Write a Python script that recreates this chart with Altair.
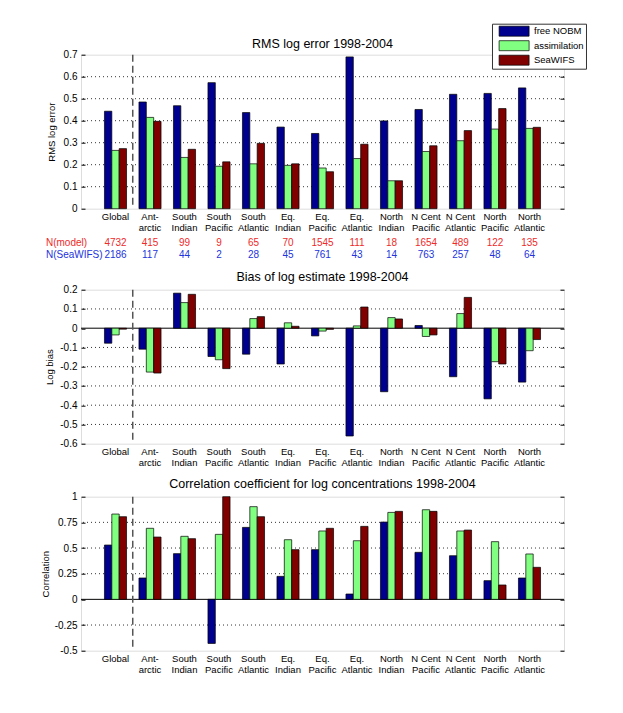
import altair as alt
import pandas as pd

FONT = "Liberation Sans"

regions = ["Global", "Ant-|arctic", "South|Indian", "South|Pacific", "South|Atlantic",
           "Eq.|Indian", "Eq.|Pacific", "Eq.|Atlantic", "North|Indian", "N Cent|Pacific",
           "N Cent|Atlantic", "North|Pacific", "North|Atlantic"]
series = ["free NOBM", "assimilation", "SeaWIFS"]
colors = ["#00008F", "#80FF80", "#800000"]

rms_free = [0.443, 0.485, 0.468, 0.573, 0.437, 0.371, 0.342, 0.690, 0.399, 0.451, 0.520, 0.524, 0.549]
rms_assim = [0.265, 0.415, 0.233, 0.193, 0.204, 0.197, 0.185, 0.228, 0.127, 0.260, 0.309, 0.362, 0.365]
rms_sea = [0.273, 0.397, 0.270, 0.213, 0.297, 0.204, 0.168, 0.293, 0.127, 0.286, 0.355, 0.455, 0.370]

bias_free = [-0.078, -0.109, 0.182, -0.147, -0.135, -0.186, -0.040, -0.560, -0.330, 0.014, -0.252, -0.367, -0.280]
bias_assim = [-0.035, -0.228, 0.133, -0.164, 0.050, 0.028, -0.015, 0.012, 0.055, -0.043, 0.076, -0.174, -0.117]
bias_sea = [-0.005, -0.233, 0.176, -0.210, 0.060, 0.010, -0.006, 0.110, 0.048, -0.035, 0.160, -0.186, -0.059]

corr_free = [0.529, 0.208, 0.445, -0.429, 0.701, 0.224, 0.484, 0.052, 0.753, 0.458, 0.425, 0.182, 0.208]
corr_assim = [0.831, 0.692, 0.614, 0.633, 0.903, 0.581, 0.666, 0.571, 0.847, 0.873, 0.666, 0.562, 0.442]
corr_sea = [0.805, 0.607, 0.591, 1.000, 0.805, 0.484, 0.692, 0.711, 0.857, 0.857, 0.675, 0.140, 0.312]

n_model = [4732, 415, 99, 9, 65, 70, 1545, 111, 18, 1654, 489, 122, 135]
n_seawifs = [2186, 117, 44, 2, 28, 45, 761, 43, 14, 763, 257, 48, 64]

rms_ticks = [0, 0.1, 0.2, 0.3, 0.4, 0.5, 0.6, 0.7]
rms_grid = [0.1, 0.2, 0.3, 0.4, 0.5, 0.6]
bias_ticks = [-0.6, -0.5, -0.4, -0.3, -0.2, -0.1, 0, 0.1, 0.2]
bias_grid = [-0.5, -0.4, -0.3, -0.2, -0.1, 0.1]
corr_ticks = [-0.5, -0.25, 0, 0.25, 0.5, 0.75, 1]
corr_grid = [-0.25, 0.25, 0.5, 0.75]

W, H = 483, 154
RED_TXT = "#EE2A2A"
BLUE_TXT = "#2233DD"


def long_df(a, b, c):
    rows = []
    for i, r in enumerate(regions):
        for s, v in zip(series, (a[i], b[i], c[i])):
            rows.append({"region": r, "series": s, "value": v})
    return pd.DataFrame(rows)


xscale = alt.Scale(domain=regions, paddingInner=0.36, paddingOuter=0.68)
xaxis = alt.Axis(title=None, labelExpr="split(datum.label, '|')", labelAngle=0,
                 domain=False, ticks=False, labelPadding=2.5, labelFontSize=9.5,
                 labelLineHeight=11.5, labelColor="black", labelFont=FONT)

legend = alt.Legend(title=None, orient="none", legendX=411, legendY=-31,
                    symbolType="M-1,-1H5V1H-1Z", symbolSize=100,
                    symbolStrokeColor="black", symbolStrokeWidth=0.7,
                    symbolOffset=4.6, labelOffset=24.4, labelFontSize=9.5,
                    labelFont=FONT, labelColor="black", rowPadding=1.5,
                    padding=2, strokeColor="#333333", fillColor="white")


def X(field="region:N", **kw):
    return alt.X(field, scale=xscale, axis=xaxis, **kw)


def panel(a, b, c, title, ytitle, tpad, toff, domain, ticks, gridvals, zero_line, extra=None):
    yscale = alt.Scale(domain=domain, nice=False, zero=False)
    left_axis = alt.Axis(values=ticks, labelExpr="toString(datum.value)", grid=False,
                         domain=False, tickSize=4, offset=-4, tickColor="black",
                         labelPadding=4, labelFontSize=10, labelFont=FONT, labelColor="black",
                         title=ytitle, titleFontSize=9.5, titleFont=FONT,
                         titleFontWeight="normal", titleColor="black", titlePadding=tpad)
    right_axis = alt.Axis(orient="right", values=ticks, labels=False, grid=False,
                          domain=False, tickSize=4, offset=-4, tickColor="black", title=None)
    bars = alt.Chart(long_df(a, b, c)).mark_bar(stroke="black", strokeWidth=0.7).encode(
        x=X(),
        xOffset=alt.XOffset("series:N", sort=series,
                            scale=alt.Scale(domain=series, paddingInner=0, paddingOuter=0)),
        y=alt.Y("value:Q", scale=yscale, axis=left_axis),
        color=alt.Color("series:N", scale=alt.Scale(domain=series, range=colors), legend=legend),
    )
    grid = alt.Chart(pd.DataFrame({"g": gridvals})).mark_rule(
        color="black", strokeWidth=0.8, strokeDash=[1, 3]).encode(
        y=alt.Y("g:Q", scale=yscale, axis=right_axis))
    layers = [grid]
    if zero_line:
        zero = alt.Chart(pd.DataFrame({"z": [0]})).mark_rule(color="black", strokeWidth=1).encode(
            y=alt.Y("z:Q", scale=yscale, axis=None))
        layers.append(zero)
    layers.append(bars)
    sep = alt.Chart(pd.DataFrame({"r": ["Global"]})).mark_rule(
        color="#555555", strokeWidth=1.5, strokeDash=[7, 4], xOffset=6.2).encode(
        x=X("r:N", bandPosition=1))
    layers.append(sep)
    if extra:
        layers.extend(extra)
    return alt.layer(*layers).resolve_axis(y="independent").properties(
        width=W, height=H,
        title=alt.TitleParams(title, fontSize=12.5, fontWeight="normal", font=FONT,
                              color="black", offset=toff, anchor="middle"))


ndf = pd.DataFrame({"region": regions,
                    "nm": [str(v) for v in n_model],
                    "ns": [str(v) for v in n_seawifs]})
n_model_txt = alt.Chart(ndf).mark_text(color=RED_TXT, fontSize=10, font=FONT, baseline="middle").encode(
    x=X(), y=alt.value(H + 34.5), text="nm:N")
n_sea_txt = alt.Chart(ndf).mark_text(color=BLUE_TXT, fontSize=10, font=FONT, baseline="middle").encode(
    x=X(), y=alt.value(H + 46), text="ns:N")
lab_model = alt.Chart(pd.DataFrame({"t": ["N(model)"]})).mark_text(
    color=RED_TXT, fontSize=10, font=FONT, align="left", baseline="middle").encode(
    x=alt.value(-35), y=alt.value(H + 34.5), text="t:N")
lab_sea = alt.Chart(pd.DataFrame({"t": ["N(SeaWIFS)"]})).mark_text(
    color=BLUE_TXT, fontSize=10, font=FONT, align="left", baseline="middle").encode(
    x=alt.value(-35), y=alt.value(H + 46), text="t:N")

p1 = panel(rms_free, rms_assim, rms_sea, "RMS log error 1998-2004", "RMS log error", 7, -1,
           [0, 0.7], rms_ticks, rms_grid, False,
           extra=[n_model_txt, n_sea_txt, lab_model, lab_sea])
p2 = panel(bias_free, bias_assim, bias_sea, "Bias of log estimate 1998-2004", "Log bias", 5, 1,
           [-0.6, 0.2], bias_ticks, bias_grid, True)
p3 = panel(corr_free, corr_assim, corr_sea, "Correlation coefficient for log concentrations 1998-2004",
           "Correlation", 4, 1, [-0.5, 1], corr_ticks, corr_grid, True)

chart = alt.vconcat(p1, p2, p3, spacing=10).properties(
    padding={"left": 31, "top": 14.7, "right": 5, "bottom": 5}
).configure_view(stroke="black", strokeWidth=1).configure(font=FONT, background="white")

chart.save("out.html", embed_options={"renderer": "svg", "actions": False})
